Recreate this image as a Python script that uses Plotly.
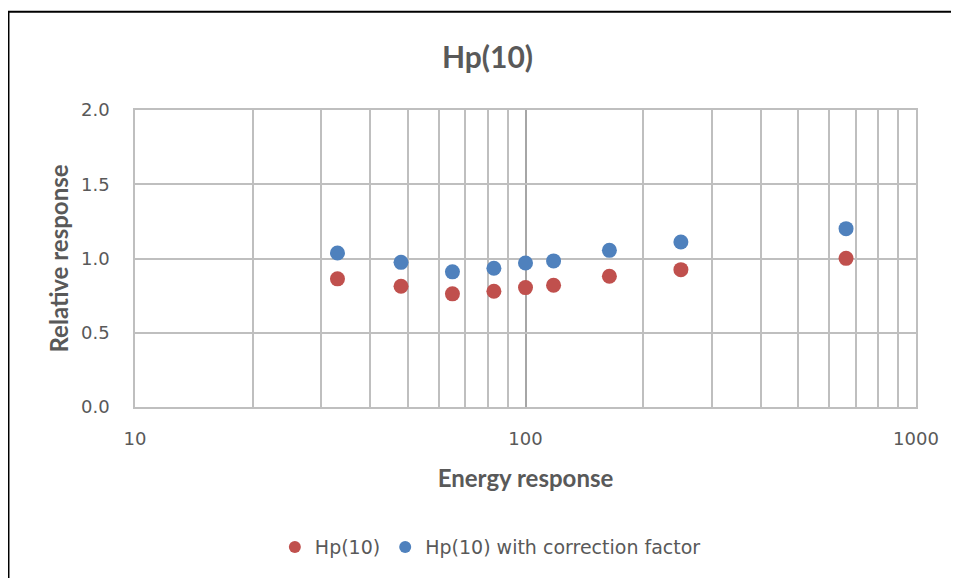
import plotly.graph_objects as go

# Data
energy = [33, 48, 65, 83, 100, 118, 164, 250, 662]
hp10 = [0.863, 0.813, 0.762, 0.779, 0.804, 0.820, 0.880, 0.925, 1.001]
hp10_corrected = [1.037, 0.974, 0.910, 0.934, 0.970, 0.984, 1.055, 1.111, 1.201]

x_ticks = [10, 100, 1000]
x_minor = [20, 30, 40, 50, 60, 70, 80, 90, 200, 300, 400, 500, 600, 700, 800, 900]
y_ticks = [0.0, 0.5, 1.0, 1.5, 2.0]

RED = "#C0504D"
BLUE = "#4F81BD"
GREY_TXT = "#595959"
GRID = "#BFBFBF"
FONT = "DejaVu Sans"
BOLD_FONT = "Lato"

fig = go.Figure()
fig.add_trace(go.Scatter(x=energy, y=hp10, mode="markers", name="Hp(10)",
                         marker=dict(color=RED, size=15)))
fig.add_trace(go.Scatter(x=energy, y=hp10_corrected, mode="markers",
                         name="Hp(10) with correction factor",
                         marker=dict(color=BLUE, size=15)))

fig.update_layout(
    width=959, height=578,
    margin=dict(l=127, r=51, t=102, b=178.5),
    paper_bgcolor="white", plot_bgcolor="white",
    font=dict(family=FONT, color=GREY_TXT, size=17),
    title=dict(text="<b>Hp(10)</b>", x=0.5, xanchor="center", y=0.914, yanchor="middle",
               font=dict(size=30, color=GREY_TXT, family=BOLD_FONT)),
    showlegend=True,
    legend=dict(orientation="h", x=0.455, xanchor="center", y=-0.472, yanchor="middle",
                font=dict(size=19, color=GREY_TXT, family=FONT), itemsizing="constant",
                traceorder="normal"),
)

fig.update_xaxes(
    type="log", range=[1, 3],
    tickvals=x_ticks, ticktext=[str(v) for v in x_ticks],
    showgrid=True, gridcolor="#A6A6A6", gridwidth=1.5,
    minor=dict(tickvals=x_minor, showgrid=True, gridcolor=GRID, gridwidth=1.5),
    showline=True, linecolor=GRID, linewidth=1.5, mirror=True,
    zeroline=False, ticks="", ticklabelstandoff=15,
    tickfont=dict(size=18, color=GREY_TXT, family=FONT),
    title=dict(text="<b>Energy response</b>", standoff=22,
               font=dict(size=24, color=GREY_TXT, family=BOLD_FONT)),
)

fig.update_yaxes(
    range=[0, 2], tickvals=y_ticks, ticktext=[f"{v:.1f}" for v in y_ticks],
    showgrid=True, gridcolor=GRID, gridwidth=1.5,
    showline=True, linecolor=GRID, linewidth=1.5, mirror=True,
    zeroline=False, ticks="", ticklabelstandoff=20,
    tickfont=dict(size=18, color=GREY_TXT, family=FONT),
    title=dict(text="<b>Relative response</b>", standoff=6,
               font=dict(size=24, color=GREY_TXT, family=BOLD_FONT)),
)

# outer chart frame (only its top and left edges are visible)
fig.add_shape(type="rect", xref="paper", yref="paper",
              x0=-0.162, x1=1.1, y0=-0.7, y1=1.331,
              line=dict(color="black", width=2), fillcolor="rgba(0,0,0,0)", layer="above")

fig.write_html("out.html")
